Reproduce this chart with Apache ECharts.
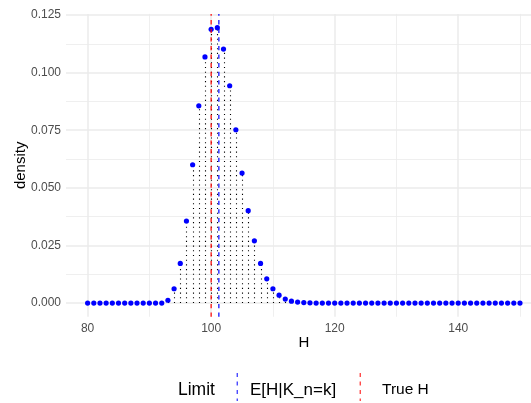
<!DOCTYPE html>
<html><head><meta charset="utf-8">
<script src="https://cdn.jsdelivr.net/npm/echarts@6/dist/echarts.min.js"></script>
<style>html,body{margin:0;padding:0;background:#fff}#c{width:531px;height:403px}</style>
</head><body><div id="c"></div>
<script>
const H = [80,81,82,83,84,85,86,87,88,89,90,91,92,93,94,95,96,97,98,99,100,101,102,103,104,105,106,107,108,109,110,111,112,113,114,115,116,117,118,119,120,121,122,123,124,125,126,127,128,129,130,131,132,133,134,135,136,137,138,139,140,141,142,143,144,145,146,147,148,149,150];
const density = [0,0,0,0,0,0,0,0,0,0,0,0,0,
  0.0012,0.0062,0.0172,0.0356,0.0600,0.0856,0.1068,0.1188,0.1195,0.1102,0.0943,0.0752,0.0564,0.0401,0.0270,0.0172,0.0105,0.0062,0.0034,0.0017,0.0008,0.0004,0.0002,0.0001,
  0,0,0,0,0,0,0,0,0,0,0,0,0,0,0,0,0,0,0,0,0,0,0,0,0,0,0,0,0,0,0,0,0,0];
const trueH = 100;
const expectedH = 101.25;
const limitNames = ['E[H|K_n=k]', 'True H'];
const limitColors = ['#0000FF', '#FF0000'];
const xMajor = [80,100,120,140];
const xMinor = [90,110,130,150];
const yMajor = [0,0.025,0.05,0.075,0.1,0.125];
const yMinor = [0.0125,0.0375,0.0625,0.0875,0.1125];

const pts = H.map((h,i)=>[h,density[i]]);
const FONT = '"Liberation Sans", Arial, sans-serif';
const XMIN = 76.5, XMAX = 153.5, YMIN = -0.005975, YMAX = 0.125475;
const keyIcon = 'path://M0,0h1v4h-1zM0,8.5h1v4h-1zM0,17h1v4h-1zM0,25.5h1v2.5h-1zM0,34h0.01v0.01h-0.01z';

function vlineRender(color){
  return function(params, api){
    const x = api.value(0);
    const top = api.coord([x, YMAX]);
    const bot = api.coord([x, YMIN]);
    return {type:'line', shape:{x1:bot[0], y1:bot[1], x2:top[0], y2:top[1]},
      style:{stroke:color, lineWidth:1.2, lineDash:[4.3,4.3], fill:null}};
  };
}

const chart = echarts.init(document.getElementById('c'), null, {renderer:'canvas'});
const baseX = {type:'value', gridIndex:0, min:XMIN, max:XMAX, axisLine:{show:false}};
const baseY = {type:'value', gridIndex:0, min:YMIN, max:YMAX, axisLine:{show:false}};
function legendFor(i, left, fs, padL){
  return {data:[{name:limitNames[i], icon:keyIcon, itemStyle:{color:limitColors[i], borderWidth:0}}],
    left:left, top:373, padding:0, itemWidth:1.6, itemHeight:34,
    itemStyle:{color:limitColors[i], borderWidth:0},
    textStyle:{fontFamily:FONT, fontSize:fs, color:'#000', padding:[0,0,0,padL]}};
}
chart.setOption({
  animation:false,
  backgroundColor:'#fff',
  textStyle:{fontFamily:FONT},
  grid:{left:66, top:13.9, width:475.6, height:302.9, containLabel:false, outerBoundsMode:'none'},
  title:{text:'Limit', left:178, top:381.5, padding:0, textStyle:{fontFamily:FONT, fontSize:17.5, fontWeight:'normal', color:'#000'}},
  legend:[legendFor(0, 236.7, 17, 7), legendFor(1, 359.7, 15.5, 16)],
  xAxis:[
    Object.assign({}, baseX, {
      name:'H', nameLocation:'middle', nameGap:19, nameMoveOverlap:false,
      nameTextStyle:{fontFamily:FONT, fontSize:15, color:'#000'},
      axisTick:{show:false, customValues:xMajor},
      axisLabel:{customValues:xMajor, color:'#4D4D4D', fontSize:12, margin:6, fontFamily:FONT},
      splitLine:{show:true, lineStyle:{color:'#EBEBEB', width:1.5}}
    }),
    Object.assign({}, baseX, {
      axisTick:{show:false, customValues:xMinor},
      axisLabel:{show:false, customValues:xMinor},
      splitLine:{show:true, lineStyle:{color:'#EBEBEB', width:0.8}}
    })
  ],
  yAxis:[
    Object.assign({}, baseY, {
      name:'density', nameLocation:'middle', nameGap:38, nameMoveOverlap:false,
      nameTextStyle:{fontFamily:FONT, fontSize:15, color:'#000'},
      axisTick:{show:false, customValues:yMajor},
      axisLabel:{customValues:yMajor, color:'#4D4D4D', fontSize:12, margin:5, fontFamily:FONT,
        formatter:v=>v.toFixed(3)},
      splitLine:{show:true, lineStyle:{color:'#EBEBEB', width:1.5}}
    }),
    Object.assign({}, baseY, {
      axisTick:{show:false, customValues:yMinor},
      axisLabel:{show:false, customValues:yMinor},
      splitLine:{show:true, lineStyle:{color:'#EBEBEB', width:0.8}}
    })
  ],
  series:[
    {type:'custom', xAxisIndex:0, yAxisIndex:0, z:2, silent:true, data:pts,
     renderItem:function(params, api){
       const x = api.value(0), y = api.value(1);
       if (!(y > 0)) return null;
       const p0 = api.coord([x, 0]);
       const p1 = api.coord([x, y]);
       const px = Math.round(p0[0]) + 0.5;
       return {type:'line', shape:{x1:px, y1:p0[1], x2:px, y2:p1[1]},
         style:{stroke:'#000', lineWidth:1.1, lineDash:[1.1,3.6], fill:null}};
     }},
    {type:'scatter', xAxisIndex:0, yAxisIndex:0, z:3, silent:true, data:pts, symbolSize:5.2,
     itemStyle:{color:'#0000FF', opacity:1}},
    {name:limitNames[0], type:'custom', xAxisIndex:0, yAxisIndex:0, z:4, silent:true,
     data:[[expectedH, 0]], itemStyle:{color:limitColors[0]}, renderItem:vlineRender(limitColors[0])},
    {name:limitNames[1], type:'custom', xAxisIndex:0, yAxisIndex:0, z:4, silent:true,
     data:[[trueH, 0]], itemStyle:{color:limitColors[1]}, renderItem:vlineRender(limitColors[1])}
  ]
});
</script></body></html>
